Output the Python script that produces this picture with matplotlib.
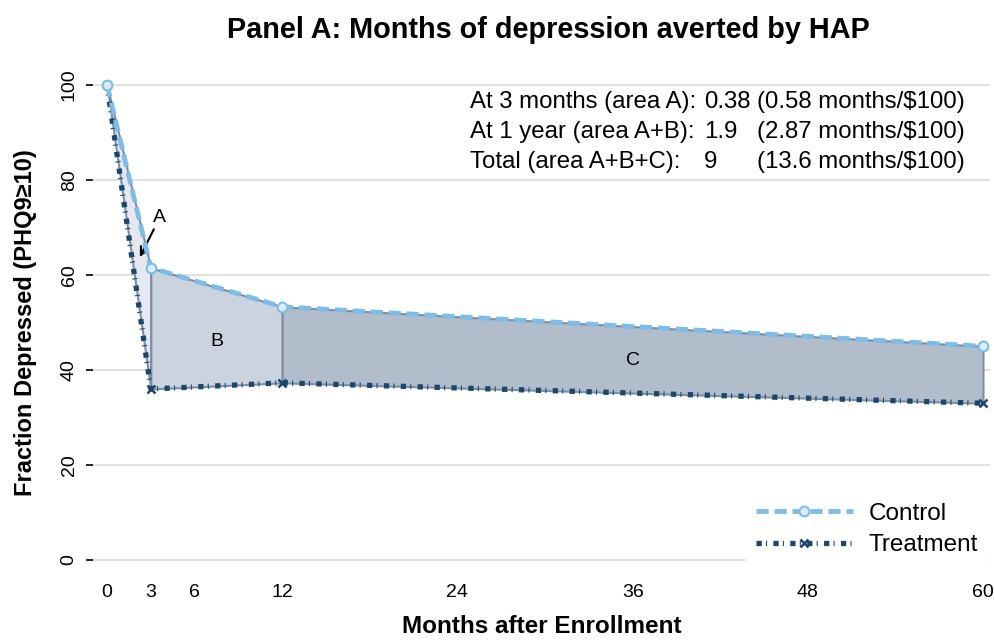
import numpy as np
import matplotlib.pyplot as plt

plt.rcParams['font.family'] = ['Liberation Sans', 'DejaVu Sans']

# months after enrollment and share depressed (%)
months = [0, 3, 12, 60]
control = [100, 61.5, 53.3, 45.0]
treatment = [100, 36.0, 37.3, 33.0]

xticks = [0, 3, 6, 12, 24, 36, 48, 60]
yticks = [0, 20, 40, 60, 80, 100]

summary_labels = ["At 3 months (area A):", "At 1 year (area A+B):", "Total (area A+B+C):"]
summary_values = ["0.38", "1.9", "9"]
summary_costs = ["(0.58 months/$100)", "(2.87 months/$100)", "(13.6 months/$100)"]

ctrl_col = '#7dbde8'
treat_col = '#1a476f'
edge_col = '#7d8ea5'
area_cols = ['#e5e8ee', '#cbd4de', '#b1bdcb']

fig = plt.figure(figsize=(9.94, 6.41), dpi=100)
ax = fig.add_axes([93 / 994, 1 - 570 / 641, 897 / 994, 495 / 641])

m = np.array(months, dtype=float)
c = np.array(control)
t = np.array(treatment)

# shaded areas A, B, C
for i, col in enumerate(area_cols):
    sl = slice(i, i + 2)
    ax.fill_between(m[sl], t[sl], c[sl], facecolor=col, edgecolor=edge_col,
                    linewidth=1.5, zorder=2)

ax.plot(m, c, color=ctrl_col, lw=3.5, linestyle=(0, (2.5, 1.2)),
        marker='o', markersize=7, markerfacecolor='#dcedf9',
        markeredgecolor=ctrl_col, markeredgewidth=1.5, label='Control', zorder=4)
ax.plot(m, t, color=treat_col, lw=3.8, linestyle=(0, (1.0, 0.8, 0.2, 1.2)),
        marker='x', markersize=5.5, markeredgewidth=1.8, label='Treatment', zorder=3)

ax.text(7.5, 45.9, 'B', ha='center', va='center', fontsize=14)
ax.text(36, 41.9, 'C', ha='center', va='center', fontsize=14)
ax.annotate('A', xy=(2.25, 63.8), xytext=(3.6, 72.0), ha='center', va='center',
            fontsize=14, arrowprops=dict(arrowstyle='->', color='black', lw=1.5,
                                         shrinkA=0, shrinkB=0, mutation_scale=14))

# summary text block
for i in range(3):
    y = 1 - (102 + 30 * i) / 641
    fig.text(470 / 994, y, summary_labels[i], ha='left', va='center', fontsize=17.3)
    fig.text(704 / 994, y, summary_values[i], ha='left', va='center', fontsize=17.3)
    fig.text(757 / 994, y, summary_costs[i], ha='left', va='center', fontsize=17.3)

ax.set_xlim(-0.96, 60.48)
ax.set_ylim(-2.1, 102.1)
ax.set_xticks(xticks)
ax.set_yticks(yticks)
ax.grid(axis='y', color='#e0e0e0', lw=1.5, zorder=0)
ax.set_axisbelow(True)
for s in ax.spines.values():
    s.set_visible(False)
ax.tick_params(axis='x', length=0, pad=10, labelsize=14)
ax.tick_params(axis='y', length=5, width=1.2, pad=6, labelsize=14, labelrotation=90)
for lab in ax.get_yticklabels():
    lab.set_va('center')

ax.set_xlabel('Months after Enrollment', fontsize=17.5, fontweight='bold', labelpad=10)
ax.set_ylabel('Fraction Depressed (PHQ9≥10)', fontsize=17, fontweight='bold', labelpad=17)
fig.suptitle('Panel A: Months of depression averted by HAP', fontsize=20.8,
             fontweight='bold', x=548 / 994, y=1 - 30 / 641, va='center')

leg = ax.legend(loc='lower right', bbox_to_anchor=(988 / 994, 1 - 566 / 641),
                bbox_transform=fig.transFigure, fontsize=17.5, frameon=True,
                facecolor='white', edgecolor='white', framealpha=1, fancybox=False,
                handlelength=4.0, handletextpad=0.65, numpoints=1, borderaxespad=0,
                labelspacing=0.4)

fig.savefig('out.png', dpi=100)
